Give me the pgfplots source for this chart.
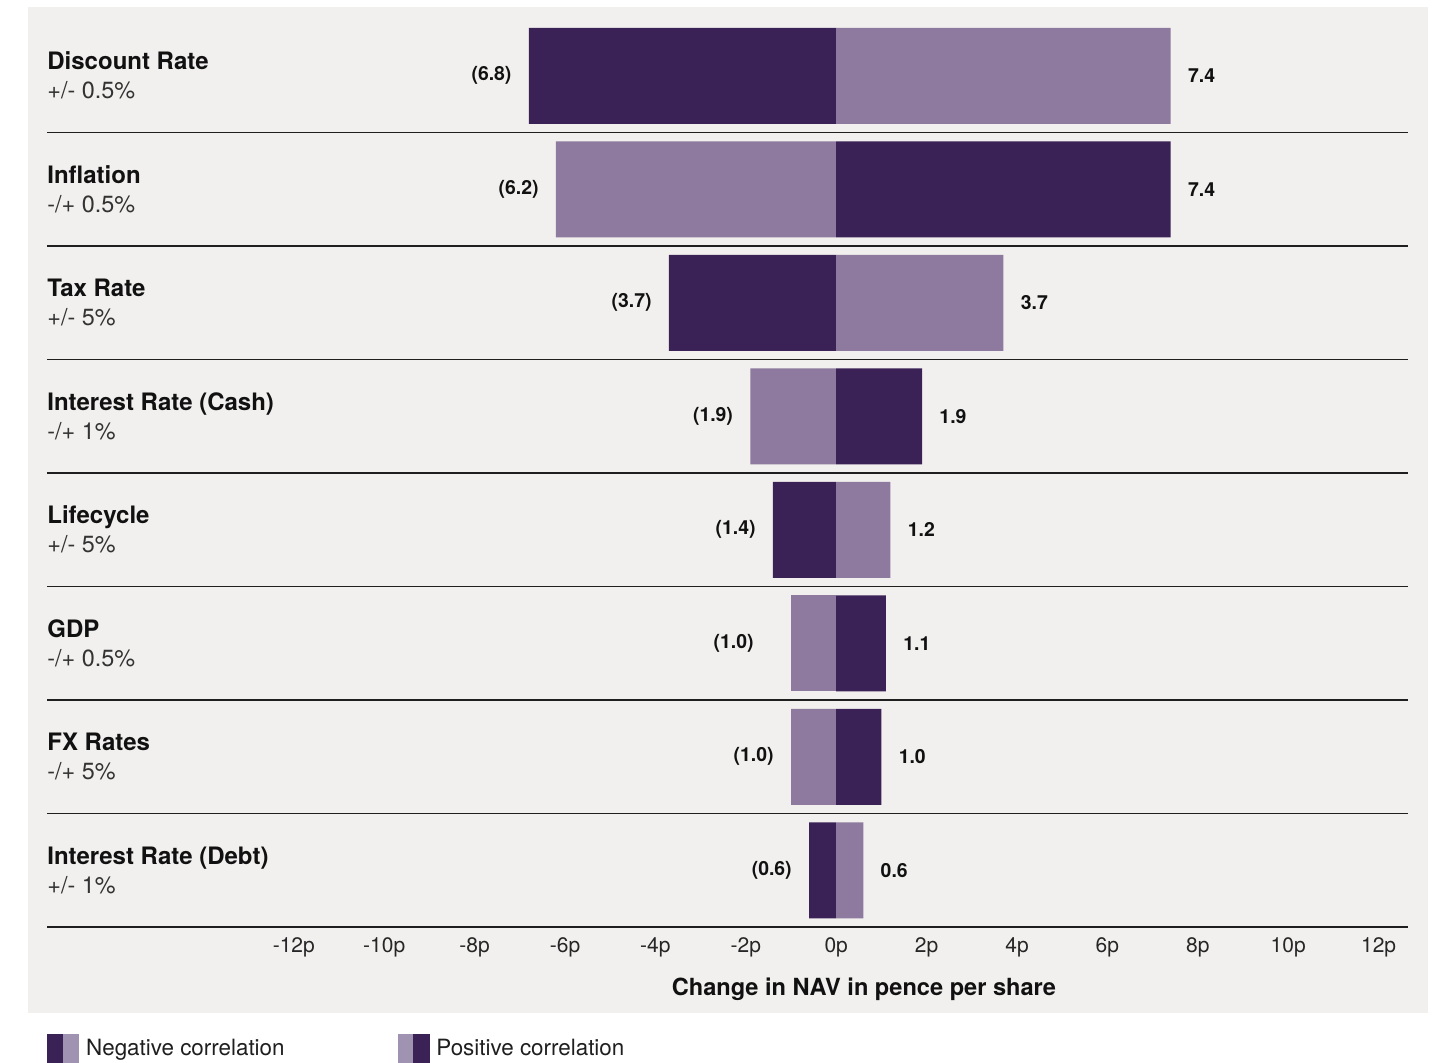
\documentclass[border=0pt]{standalone}
\usepackage{fontspec}
\setmainfont{TeX Gyre Heros}
\usepackage{pgfplots}
\pgfplotsset{compat=1.18}
\definecolor{cdark}{HTML}{3A2156}
\definecolor{clight}{HTML}{8D7A9E}
\definecolor{clightleg}{HTML}{A092B1}
\definecolor{bgc}{HTML}{F1F0EE}
\definecolor{txt}{HTML}{111111}
\begin{document}
\begin{tikzpicture}
\useasboundingbox (0,0) rectangle (718pt,531pt);
\fill[white] (0,0) rectangle (718pt,531pt);
\fill[bgc] (14pt,24.5pt) rectangle (714pt,527.5pt);
\begin{axis}[
  at={(23.5pt,67.5pt)}, anchor=south west,
  scale only axis, width=680.5pt, height=454pt,
  xmin=-17.46, xmax=12.65, ymin=-0.5, ymax=7.5, y dir=reverse,
  clip=false,
  axis line style={draw=none},
  major tick length=0pt,
  xtick={-12,-10,...,12},
  xticklabels={-12p,-10p,-8p,-6p,-4p,-2p,0p,2p,4p,6p,8p,10p,12p},
  xtick pos=left,
  xticklabel style={font=\fontsize{10.5}{12}\selectfont, text=black!85, anchor=base, yshift=-12.8pt},
  ytick={0,...,7},
  yticklabels={
    {\fontsize{12}{14.5}\selectfont\textbf{Discount Rate}\\{\color{black!80}+/- 0.5\%}},
    {\fontsize{12}{14.5}\selectfont\textbf{Inflation}\\{\color{black!80}-/+ 0.5\%}},
    {\fontsize{12}{14.5}\selectfont\textbf{Tax Rate}\\{\color{black!80}+/- 5\%}},
    {\fontsize{12}{14.5}\selectfont\textbf{Interest Rate (Cash)}\\{\color{black!80}-/+ 1\%}},
    {\fontsize{12}{14.5}\selectfont\textbf{Lifecycle}\\{\color{black!80}+/- 5\%}},
    {\fontsize{12}{14.5}\selectfont\textbf{GDP}\\{\color{black!80}-/+ 0.5\%}},
    {\fontsize{12}{14.5}\selectfont\textbf{FX Rates}\\{\color{black!80}-/+ 5\%}},
    {\fontsize{12}{14.5}\selectfont\textbf{Interest Rate (Debt)}\\{\color{black!80}+/- 1\%}}},
  ytick pos=left,
  yticklabel style={anchor=west, align=left, inner sep=0pt, font=\fontsize{11.7}{14.5}\selectfont, text=txt},
  extra y ticks={0.5,1.5,...,7.5},
  extra y tick labels={},
  extra y tick style={grid=major, major grid style={line width=0.75pt, color=black!88}},
  xlabel={\textbf{Change in NAV in pence per share}},
  xlabel style={at={(axis description cs:0.6003,0)}, anchor=base, yshift=-34.3pt, font=\fontsize{11.8}{14}\selectfont, text=txt},
  xbar, bar width=48pt, bar shift=0pt,
  legend columns=2,
  legend cell align=left,
  legend style={at={(axis description cs:0,-0.1345)}, anchor=west, draw=none, fill=none, inner sep=0pt,
    font=\fontsize{11.2}{13}\selectfont, text=black!88,
    /tikz/every even column/.append style={column sep=54.5pt}},
]
% negative side, dark
\addplot[forget plot, fill=cdark, draw=none, nodes near coords, point meta=explicit symbolic,
  nodes near coords style={anchor=east, xshift=-8.5pt, inner sep=0pt, font=\bfseries\fontsize{9.7}{11}\selectfont, text=txt}]
  coordinates {(-6.8,0) [(6.8)] (-3.7,2) [(3.7)] (-1.4,4) [(1.4)] (-0.6,7) [(0.6)]};
% negative side, light
\addplot[forget plot, fill=clight, draw=none, nodes near coords, point meta=explicit symbolic,
  nodes near coords style={anchor=east, xshift=-8.5pt, inner sep=0pt, font=\bfseries\fontsize{9.7}{11}\selectfont, text=txt}]
  coordinates {(-6.2,1) [(6.2)] (-1.9,3) [(1.9)] (-1.0,6) [(1.0)]};
\addplot[forget plot, fill=clight, draw=none, nodes near coords, point meta=explicit symbolic,
  nodes near coords style={anchor=east, xshift=-18.5pt, inner sep=0pt, font=\bfseries\fontsize{9.7}{11}\selectfont, text=txt}]
  coordinates {(-1.0,5) [(1.0)]};
% positive side, light
\addplot[forget plot, fill=clight, draw=none, nodes near coords, point meta=explicit symbolic,
  nodes near coords style={anchor=west, xshift=8.5pt, inner sep=0pt, font=\bfseries\fontsize{9.7}{11}\selectfont, text=txt}]
  coordinates {(7.4,0) [7.4] (3.7,2) [3.7] (1.2,4) [1.2] (0.6,7) [0.6]};
% positive side, dark
\addplot[forget plot, fill=cdark, draw=none, nodes near coords, point meta=explicit symbolic,
  nodes near coords style={anchor=west, xshift=8.5pt, inner sep=0pt, font=\bfseries\fontsize{9.7}{11}\selectfont, text=txt}]
  coordinates {(7.4,1) [7.4] (1.9,3) [1.9] (1.1,5) [1.1] (1.0,6) [1.0]};
\addlegendimage{legend image code/.code={
  \fill[cdark] (0pt,-7.5pt) rectangle (7.75pt,7.5pt);
  \fill[clightleg] (7.75pt,-7.5pt) rectangle (15.5pt,7.5pt);}}
\addlegendentry{\hspace{1.5pt}Negative correlation}
\addlegendimage{legend image code/.code={
  \fill[clightleg] (0pt,-7.5pt) rectangle (7.75pt,7.5pt);
  \fill[cdark] (7.75pt,-7.5pt) rectangle (15.5pt,7.5pt);}}
\addlegendentry{\hspace{1.5pt}Positive correlation}
\end{axis}
\end{tikzpicture}
\end{document}
